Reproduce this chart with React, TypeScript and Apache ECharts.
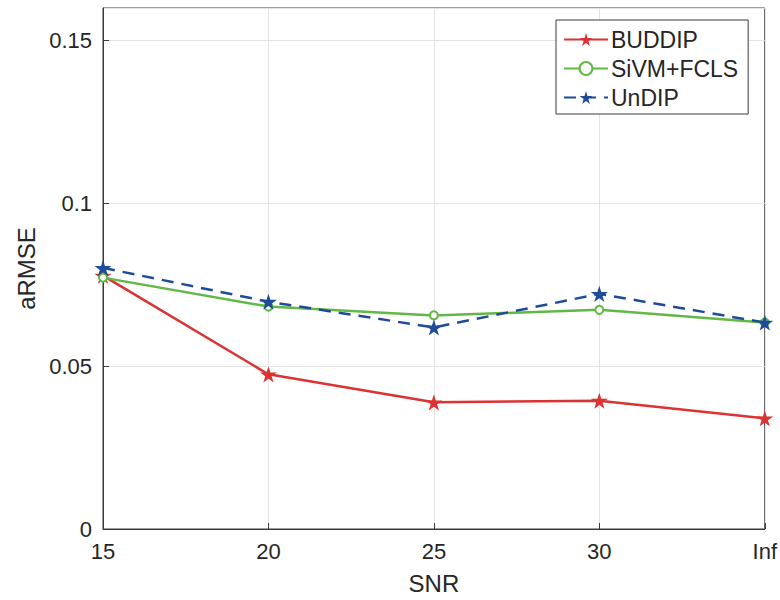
import React, { useEffect, useRef } from "react";
import * as echarts from "echarts";

const snrLabels = ["15", "20", "25", "30", "Inf"];
const buddip = [0.0778, 0.0475, 0.0389, 0.0394, 0.0340];
const sivmFcls = [0.0772, 0.0683, 0.0656, 0.0673, 0.0634];
const undip = [0.0802, 0.0698, 0.0619, 0.0722, 0.0634];

const STAR = "path://M50,0 L61,35 L98,35 L68,57 L79,91 L50,70 L21,91 L32,57 L2,35 L39,35 Z";
const FONT = "Liberation Sans, Arial, Helvetica, sans-serif";
const TXT = "#262626";

export default function App() {
  const ref = useRef<HTMLDivElement>(null);
  useEffect(() => {
    if (!ref.current) return;
    const chart = echarts.init(ref.current, undefined, { renderer: "svg" });
    chart.setOption({
      animation: false,
      backgroundColor: "#ffffff",
      textStyle: { fontFamily: FONT },
      grid: {
        left: 103,
        right: 15,
        top: 8,
        bottom: 70,
        show: true,
        borderColor: "#3a3a3a",
        borderWidth: 1,
        containLabel: false,
      },
      legend: {
        orient: "vertical",
        left: 556,
        top: 20,
        itemWidth: 44,
        itemHeight: 16,
        itemGap: 6,
        padding: [8, 10, 5, 7],
        borderColor: "#3a3a3a",
        borderWidth: 1,
        borderRadius: 0,
        backgroundColor: "#ffffff",
        textStyle: { fontSize: 23, color: TXT, fontFamily: FONT, padding: [0, 0, 0, -2] },
        data: ["BUDDIP", "SiVM+FCLS", "UnDIP"],
      },
      xAxis: {
        type: "category",
        data: snrLabels,
        boundaryGap: false,
        name: "SNR",
        nameLocation: "middle",
        nameGap: 42,
        nameTextStyle: { fontSize: 24, color: TXT, fontFamily: FONT },
        axisLine: { lineStyle: { color: "#3a3a3a", width: 1 } },
        axisTick: { inside: true, length: 6, lineStyle: { color: "#3a3a3a" }, alignWithLabel: true },
        axisLabel: { fontSize: 22, color: TXT, margin: 11, fontFamily: FONT },
        splitLine: { show: true, lineStyle: { color: "#e3e3e3", width: 1 } },
      },
      yAxis: {
        type: "value",
        min: 0,
        max: 0.16,
        interval: 0.05,
        name: "aRMSE",
        nameLocation: "middle",
        nameGap: 64,
        nameRotate: 90,
        nameTextStyle: { fontSize: 24, color: TXT, fontFamily: FONT },
        axisLine: { show: true, lineStyle: { color: "#3a3a3a", width: 1 } },
        axisTick: { show: true, inside: true, length: 6, lineStyle: { color: "#3a3a3a" } },
        axisLabel: {
          fontSize: 22,
          color: TXT,
          margin: 11,
          fontFamily: FONT,
          showMaxLabel: false,
          formatter: (v: number) => (v === 0 ? "0" : String(Math.round(v * 100) / 100)),
        },
        splitLine: { show: true, lineStyle: { color: "#e3e3e3", width: 1 } },
      },
      series: [
        {
          name: "BUDDIP",
          type: "line",
          data: buddip,
          symbol: STAR,
          symbolSize: 17,
          symbolKeepAspect: true,
          itemStyle: { color: "#dc3232" },
          lineStyle: { color: "#dc3232", width: 2.5 },
          z: 2,
        },
        {
          name: "SiVM+FCLS",
          type: "line",
          data: sivmFcls,
          symbol: "emptyCircle",
          symbolSize: 8,
          itemStyle: { color: "#62b846", borderWidth: 2 },
          lineStyle: { color: "#62b846", width: 2.5 },
          z: 3,
        },
        {
          name: "UnDIP",
          type: "line",
          data: undip,
          symbol: STAR,
          symbolSize: 17,
          symbolKeepAspect: true,
          itemStyle: { color: "#1f4c98" },
          lineStyle: { color: "#1f4c98", width: 2.5, type: [12, 8] },
          z: 4,
        },
      ],
    });
    return () => chart.dispose();
  }, []);
  return (
    <div
      ref={ref}
      style={{ position: "fixed", left: 0, top: 0, width: 780, height: 600, background: "#fff" }}
    />
  );
}
